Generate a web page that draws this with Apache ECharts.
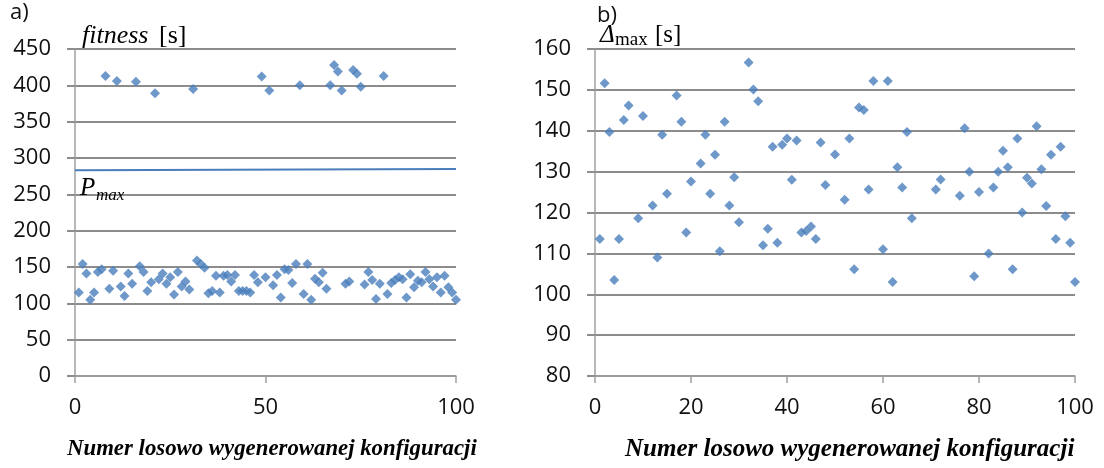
<!DOCTYPE html>
<html>
<head>
<meta charset="utf-8">
<script src="https://cdn.jsdelivr.net/npm/echarts@6/dist/echarts.min.js"></script>
<style>
  html, body { margin: 0; padding: 0; background: #fff; }
  #chart { width: 1104px; height: 468px; }
</style>
</head>
<body>
<div id="chart"></div>
<script>
// a) fitness for every configuration 1..100
var fitnessNr = [];
for (var n = 1; n <= 100; n++) fitnessNr.push(n);
var fitnessVal = [
  115, 154, 141, 105, 115, 143, 147, 413, 120, 145,
  406, 123, 110, 141, 127, 405, 151, 143, 117, 129,
  389, 133, 141, 127, 136, 112, 143, 123, 130, 119,
  395, 159, 154, 149, 114, 117, 138, 115, 138, 139,
  130, 139, 117, 117, 117, 115, 139, 129, 412, 136,
  393, 125, 139, 108, 147, 146, 128, 154, 400, 113,
  154, 105, 134, 129, 142, 120, 400, 428, 419, 393,
  127, 130, 421, 416, 398, 126, 143, 132, 106, 127,
  413, 113, 128, 132, 136, 133, 108, 140, 122, 131,
  129, 143, 133, 123, 136, 115, 138, 122, 115, 105
];
// P_max limit line
var pmaxX = [0, 100];
var pmaxVal = [283, 285];

// b) delta max, only configurations under P_max
var deltaNr = [
  1, 2, 3, 4, 5, 6, 7, 9, 10, 12, 13, 14, 15, 17, 18, 19, 20,
  22, 23, 24, 25, 26, 27, 28, 29, 30, 32, 33, 34, 35, 36, 37, 38, 39, 40,
  41, 42, 43, 44, 45, 46, 47, 48, 50, 52, 53, 54, 55, 56, 57, 58,
  60, 61, 62, 63, 64, 65, 66, 71, 72, 76, 77, 78, 79, 80,
  82, 83, 84, 85, 86, 87, 88, 89, 90, 91, 92, 93, 94, 95, 96, 97, 98, 99, 100
];
var deltaVal = [
  113.5, 151.6, 139.7, 103.5, 113.5, 142.6, 146.2, 118.6, 143.6, 121.7, 109, 139, 124.6, 148.6, 142.2, 115.1, 127.6,
  132, 139, 124.6, 134.1, 110.5, 142.2, 121.7, 128.6, 117.6, 156.7, 150.1, 147.2, 112, 116, 136.1, 112.6, 136.6, 138.1,
  128, 137.6, 115.1, 115.5, 116.6, 113.5, 137.1, 126.7, 134.2, 123.1, 138.1, 106.1, 145.7, 145.1, 125.6, 152.2,
  111, 152.2, 103, 131.1, 126.1, 139.7, 118.6, 125.6, 128.1, 124.1, 140.6, 130, 104.4, 125,
  110, 126.1, 130, 135.1, 131.1, 106.1, 138.1, 120, 128.5, 127.1, 141.1, 130.6, 121.6, 134.1, 113.5, 136.1, 119.1, 112.6, 103
];

var gridColor = '#8c8c8c';
var axisColor = '#a0a0a0';
var dotColor = '#4a7ebb';
var tickFont = { fontFamily: 'Open Sans', fontSize: 22, color: '#111' };

function xAxisOf(gi, max, step) {
  return {
    gridIndex: gi, type: 'value', min: 0, max: max, interval: step,
    axisLine: { show: true, lineStyle: { color: axisColor, width: 1.5 } },
    axisTick: { show: true, length: 7, lineStyle: { color: axisColor, width: 1.5 } },
    axisLabel: Object.assign({ margin: 21 }, tickFont),
    splitLine: { show: false }
  };
}
function yAxisOf(gi, min, max, step) {
  return {
    gridIndex: gi, type: 'value', min: min, max: max, interval: step,
    axisLine: { show: true, onZero: false, lineStyle: { color: axisColor, width: 1.5 } },
    axisTick: { show: true, length: 8, lineStyle: { color: gridColor, width: 2 } },
    axisLabel: Object.assign({ margin: 24 }, tickFont),
    splitLine: { show: true, lineStyle: { color: gridColor, width: 2 } }
  };
}

var chart = echarts.init(document.getElementById('chart'));
var option = {
  backgroundColor: '#fff',
  animation: false,
  grid: [
    { left: 75, right: 648, top: 49, bottom: 92 },
    { left: 595, right: 29, top: 49, bottom: 92 }
  ],
  xAxis: [xAxisOf(0, 100, 50), xAxisOf(1, 100, 20)],
  yAxis: [yAxisOf(0, 0, 450, 50), yAxisOf(1, 80, 160, 10)],
  series: [
    {
      type: 'line', xAxisIndex: 0, yAxisIndex: 0, symbol: 'none',
      lineStyle: { color: dotColor, width: 2 },
      data: pmaxX.map(function (x, i) { return [x, pmaxVal[i]]; }),
      z: 3
    },
    {
      type: 'scatter', xAxisIndex: 0, yAxisIndex: 0, symbol: 'diamond', symbolSize: 10,
      itemStyle: { color: dotColor },
      data: fitnessNr.map(function (x, i) { return [x, fitnessVal[i]]; }),
      z: 4
    },
    {
      type: 'scatter', xAxisIndex: 1, yAxisIndex: 1, symbol: 'diamond', symbolSize: 10,
      itemStyle: { color: dotColor },
      data: deltaNr.map(function (x, i) { return [x, deltaVal[i]]; }),
      z: 4
    }
  ],
  graphic: [
    { type: 'text', left: 10, top: 2, style: { text: 'a)', font: '22px "Open Sans"', fill: '#111' } },
    { type: 'text', left: 597, top: 5, style: { text: 'b)', font: '22px "Open Sans"', fill: '#111' } },
    { type: 'text', left: 82, top: 23, z: 10, style: { text: 'fitness', font: 'italic 26px "Liberation Serif"', fill: '#000' } },
    { type: 'text', left: 159, top: 23, z: 10, style: { text: '[s]', font: '26px "Liberation Serif"', fill: '#000' } },
    { type: 'text', left: 80, top: 176, z: 10, style: { text: 'P', font: 'italic 25px "Liberation Serif"', fill: '#000' } },
    { type: 'text', left: 96, top: 187, z: 10, style: { text: 'max', font: 'italic 17px "Liberation Serif"', fill: '#000' } },
    { type: 'text', left: 600, top: 23, z: 10, style: { text: 'Δ', font: 'italic 25px "Liberation Serif"', fill: '#000' } },
    { type: 'text', left: 615, top: 31, z: 10, style: { text: 'max', font: '19px "Liberation Serif"', fill: '#000' } },
    { type: 'text', left: 655, top: 23, z: 10, style: { text: '[s]', font: '25px "Liberation Serif"', fill: '#000' } },
    { type: 'text', left: 67, top: 438, style: { text: 'Numer losowo wygenerowanej konfiguracji', font: 'italic bold 22.8px "Liberation Serif"', fill: '#000' } },
    { type: 'text', left: 625, top: 437, style: { text: 'Numer losowo wygenerowanej konfiguracji', font: 'italic bold 25px "Liberation Serif"', fill: '#000' } }
  ]
};
chart.setOption(option);
</script>
</body>
</html>
